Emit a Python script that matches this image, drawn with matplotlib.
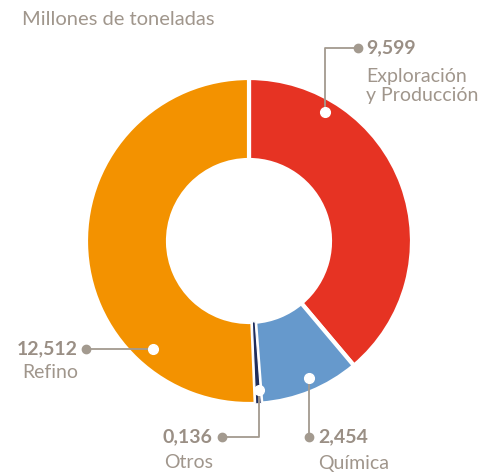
import numpy as np
import matplotlib.pyplot as plt

# ------------------------
# Data
# ------------------------
categories = ['Exploración\ny Producción', 'Química', 'Otros', 'Refino']
values = [9.599, 2.454, 0.136, 12.512]
value_labels = ['9,599', '2,454', '0,136', '12,512']
colors = ['#e63323', '#6699cc', '#1f2d5c', '#f39200']

W, H = 481, 473
text_grey = '#a0968c'
line_grey = '#a39a8f'
plt.rcParams['font.family'] = ['Lato', 'DejaVu Sans']


def P(px, py):
    # pixel position (top-left origin) -> data coords
    return px, H - py


fig = plt.figure(figsize=(W / 100, H / 100), dpi=100)
ax = fig.add_axes([0, 0, 1, 1])

cx, cy = P(249, 241)
wedges, _ = ax.pie(values, colors=colors, startangle=90, counterclock=False,
                   center=(cx, cy), radius=163,
                   wedgeprops=dict(width=82, edgecolor='white', linewidth=3))
# the tiny "Otros" slice sits on top with a thin edge so it stays visible
wedges[2].set_linewidth(0.8)
wedges[2].set_zorder(2)
ax.set_xlim(0, W)
ax.set_ylim(0, H)
ax.set_aspect('equal')
ax.axis('off')

# ------------------------
# Leader lines: (path in pixels, inner dot, outer dot)
# ------------------------
leaders = [
    [(325, 112), (325, 48), (358, 48)],   # Exploración
    [(309, 378), (309, 437)],             # Química
    [(259, 390), (259, 437), (222, 437)], # Otros
    [(153, 349), (86, 349)],              # Refino
]
for path in leaders:
    xs, ys = zip(*[P(*p) for p in path])
    ax.plot(xs, ys, color=line_grey, lw=1.3, zorder=3)
    ax.plot(xs[0], ys[0], 'o', ms=7, mfc='white', mec='white', zorder=4)
    ax.plot(xs[-1], ys[-1], 'o', ms=6, mfc=line_grey, mec=line_grey, zorder=4)

# ------------------------
# Labels
# ------------------------
num_kw = dict(fontsize=14, fontweight='bold', color='#9a8f85', va='center')
lab_kw = dict(fontsize=14, color=text_grey, va='center')

ax.text(*P(366, 48), value_labels[0], ha='left', **num_kw)
ax.text(*P(366, 86), categories[0], ha='left', linespacing=1.1, **lab_kw)

ax.text(*P(318, 437), value_labels[1], ha='left', **num_kw)
ax.text(*P(318, 463), categories[1], ha='left', **lab_kw)

ax.text(*P(212, 437), value_labels[2], ha='right', **num_kw)
ax.text(*P(164, 463), categories[2], ha='left', **lab_kw)

ax.text(*P(78, 349), value_labels[3], ha='right', **num_kw)
ax.text(*P(22, 372), categories[3], ha='left', **lab_kw)

# title (cut off at the top in the original) and units line
ax.text(*P(40, -4), 'Emisiones de CO$_2$ por negocio', fontsize=14,
        fontweight='bold', color='#2b2b2b', va='baseline', ha='left')
ax.text(*P(22, 19), 'Millones de toneladas', fontsize=14.5,
        color=text_grey, va='center', ha='left')

fig.savefig('out.png', dpi=100)
